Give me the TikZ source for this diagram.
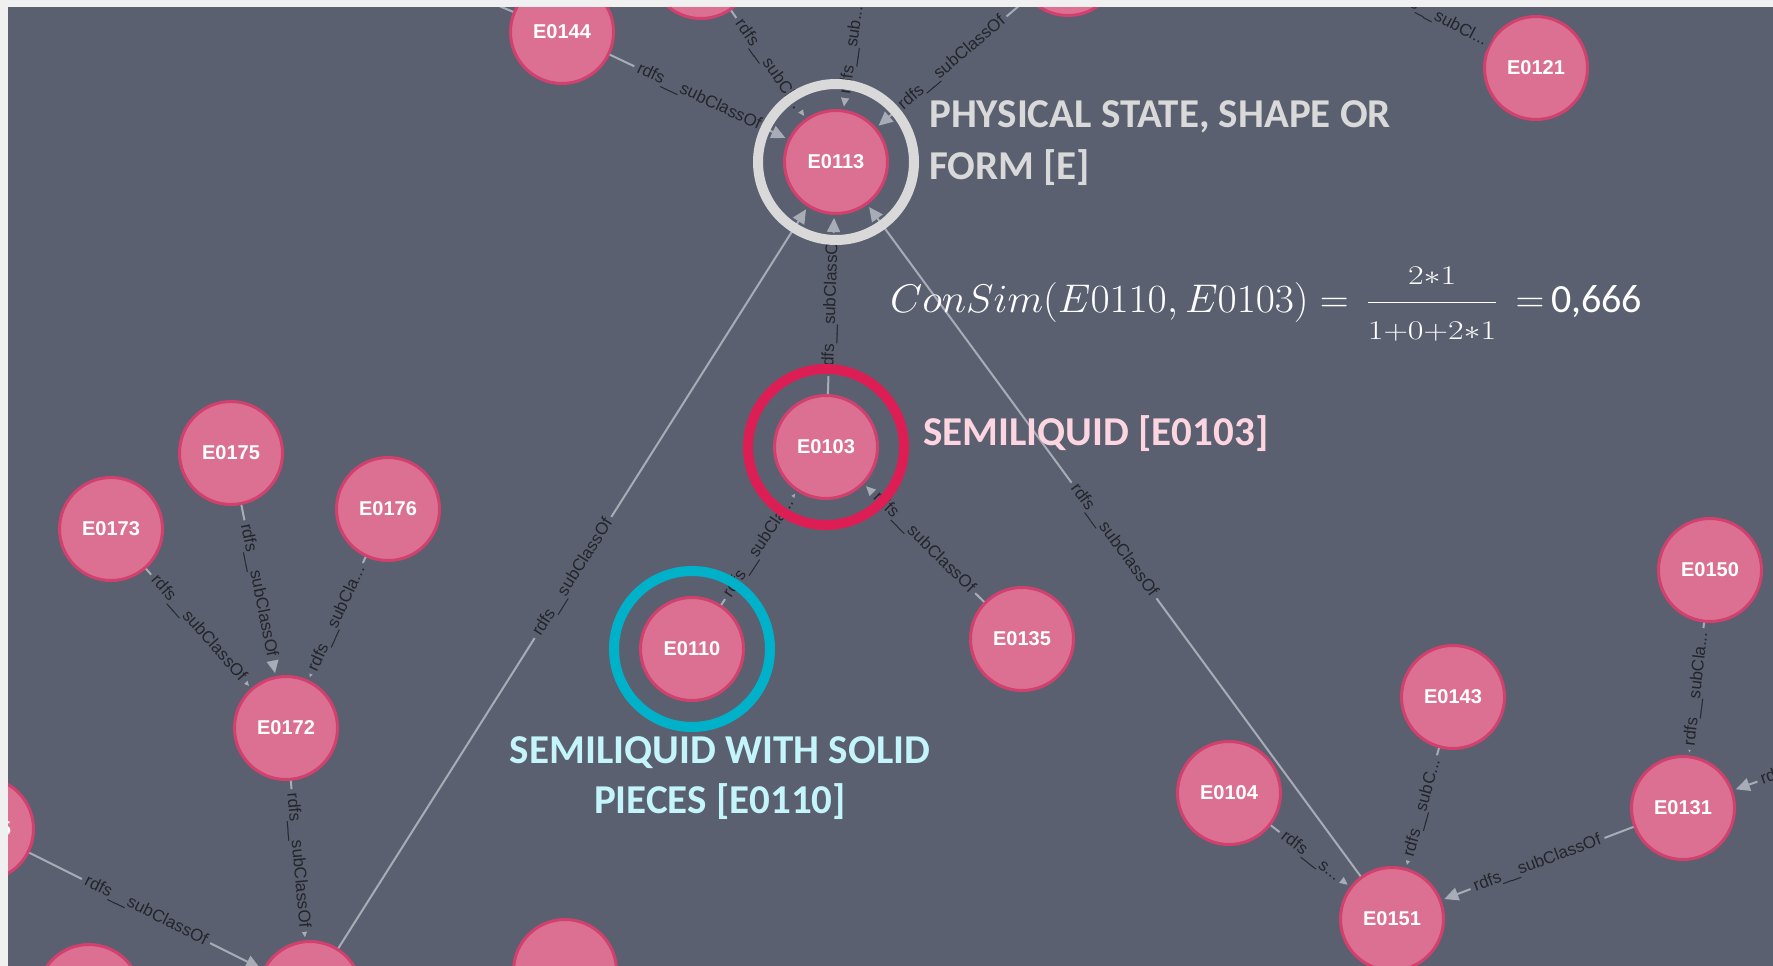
\RequirePackage{fix-cm}
\documentclass[tikz,border=0pt]{standalone}
\usepackage[no-math]{fontspec}
\usepackage{graphicx}
\usetikzlibrary{arrows.meta}
\newfontfamily\arialf{Liberation Sans}
\newfontfamily\carlito{Carlito}
\DeclareMathSizes{40}{40}{27}{20}
\definecolor{bgc}{HTML}{5B6071}
\definecolor{stripc}{HTML}{F0F0F0}
\definecolor{nodefill}{HTML}{DB7093}
\definecolor{nodeborder}{HTML}{D2416E}
\definecolor{edgec}{HTML}{A7ACB6}
\definecolor{lblc}{HTML}{23252B}
\definecolor{ringgray}{HTML}{D9D9D9}
\definecolor{ringred}{HTML}{DC1E55}
\definecolor{ringcyan}{HTML}{00B1CA}
\definecolor{lgray}{HTML}{D9D9D9}
\definecolor{lpink}{HTML}{FCD5E0}
\definecolor{lcyan}{HTML}{C3F5FB}
\begin{document}
\begin{tikzpicture}[x=1pt,y=-1pt,
  ent/.style={circle, minimum size=103pt, inner sep=0pt, fill=nodefill, draw=nodeborder, line width=3pt, text=white, font=\arialf\bfseries\fontsize{20}{20}\selectfont},
  rel/.style={draw=edgec, line width=2pt, -{Triangle[length=14pt,width=13pt]}, shorten >=3pt},
  rl/.style={sloped, midway, fill=bgc, inner xsep=4pt, inner ysep=0.5pt, text=lblc, font=\arialf\fontsize{17}{17}\selectfont},
  ring/.style={circle, draw, line width=10pt, minimum size=156pt, inner sep=0pt},
  big/.style={font=\carlito\bfseries\fontsize{41}{41}\selectfont, anchor=base west, inner sep=0pt}
]
\useasboundingbox (0,0) rectangle (1773,966);
\clip (0,0) rectangle (1773,966);
\fill[bgc] (0,0) rectangle (1773,966);

% nodes
\node[ent] (E0144) at (562,32) {E0144};
\node[ent] (E0113) at (836,162) {E0113};
\node[ent] (E0121) at (1536,68) {E0121};
\node[ent] (P1) at (701,-33) {};
\node[ent] (P2) at (868,-62) {};
\node[ent] (P3) at (1068,-36) {};
\node[ent] (E0103) at (826,447) {E0103};
\node[ent] (E0110) at (692,649) {E0110};
\node[ent] (E0135) at (1022,639) {E0135};
\node[ent] (E0175) at (231,453) {E0175};
\node[ent] (E0176) at (388,509) {E0176};
\node[ent] (E0173) at (111,529) {E0173};
\node[ent] (E0172) at (286,728) {E0172};
\node[ent] (E0150) at (1710,570) {E0150};
\node[ent] (E0143) at (1453,697) {E0143};
\node[ent] (E0104) at (1229,793) {E0104};
\node[ent] (E0131) at (1683,808) {E0131};
\node[ent] (E0151) at (1392,919) {E0151};
\node[ent] (L1) at (-18,829) {E0165};
\node[ent] (B1) at (89,996) {};
\node[ent] (B2) at (310,993) {};
\node[ent] (B3) at (565,971) {};
\coordinate (R1) at (1917,725);
\coordinate (TL) at (1344,-32);
\coordinate (TL2) at (470,-6);

% edges
\draw[rel] (E0144) -- node[rl] {rdfs\_\_subClassOf} (E0113);
\draw[rel] (P1) -- node[rl] {rdfs\_\_subCl...} (E0113);
\draw[rel] (P2) -- node[rl] {rdfs\_\_sub...} (E0113);
\draw[rel] (P3) -- node[rl] {rdfs\_\_subClassOf} (E0113);
\draw[rel] (E0103) -- node[rl] {rdfs\_\_subClassOf} (E0113);
\draw[rel] (B2) -- node[rl] {rdfs\_\_subClassOf} (E0113);
\draw[rel] (E0151) -- node[rl] {rdfs\_\_subClassOf} (E0113);
\draw[rel] (E0110) -- node[rl] {rdfs\_\_subCla...} (E0103);
\draw[rel] (E0135) -- node[rl] {rdfs\_\_subClassOf} (E0103);
\draw[rel] (E0173) -- node[rl] {rdfs\_\_subClassOf} (E0172);
\draw[rel] (E0175) -- node[rl] {rdfs\_\_subClassOf} (E0172);
\draw[rel] (E0176) -- node[rl] {rdfs\_\_subCla...} (E0172);
\draw[rel] (E0172) -- node[rl] {rdfs\_\_subClassOf} (B2);
\draw[rel] (L1) -- node[rl] {rdfs\_\_subClassOf} (B2);
\draw[rel] (E0104) -- node[rl] {rdfs\_\_s...} (E0151);
\draw[rel] (E0143) -- node[rl] {rdfs\_\_subC...} (E0151);
\draw[rel] (E0131) -- node[rl] {rdfs\_\_subClassOf} (E0151);
\draw[rel] (E0150) -- node[rl] {rdfs\_\_subCla...} (E0131);
\draw[rel] (R1) -- node[rl] {rdfs\_\_subClassOf} (E0131);
\draw[rel] (E0121) -- node[rl, pos=0.34] {rdfs\_\_subCl...} (TL);
\draw[rel] (E0144) -- (TL2);

% highlight rings
\node[ring, draw=ringgray] (ringE) at (E0113) {};
\node[ring, draw=ringred] (ringS) at (E0103) {};
\node[ring, draw=ringcyan] (ringW) at (E0110) {};

% annotations
\node[big, text=lgray] (t1) at (929,127) {PHYSICAL STATE, SHAPE OR};
\node[big, text=lgray] (t2) at (929,179) {FORM [E]};
\node[big, text=lpink] (t3) at (923,445) {SEMILIQUID [E0103]};
\node[big, text=lcyan, anchor=base] (t4) at (720,763) {SEMILIQUID WITH SOLID};
\node[big, text=lcyan, anchor=base] (t5) at (720,813) {PIECES [E0110]};

\node[anchor=base west, inner sep=0pt, text=white] (formula) at (890,312)
  {\fontsize{40}{48}\selectfont \scalebox{1.04}[1]{$ConSim(E0110,E0103)$}$\;=\;\,$\scalebox{1.26}[1]{$\displaystyle\frac{\scriptstyle 2\ast1}{\scriptstyle 1+0+2\ast1}$}$\,\;=$\,{\carlito 0,666}};

% screenshot margins
\fill[stripc] (0,0) rectangle (1773,7);
\fill[stripc] (0,0) rectangle (8,966);
\end{tikzpicture}
\end{document}
